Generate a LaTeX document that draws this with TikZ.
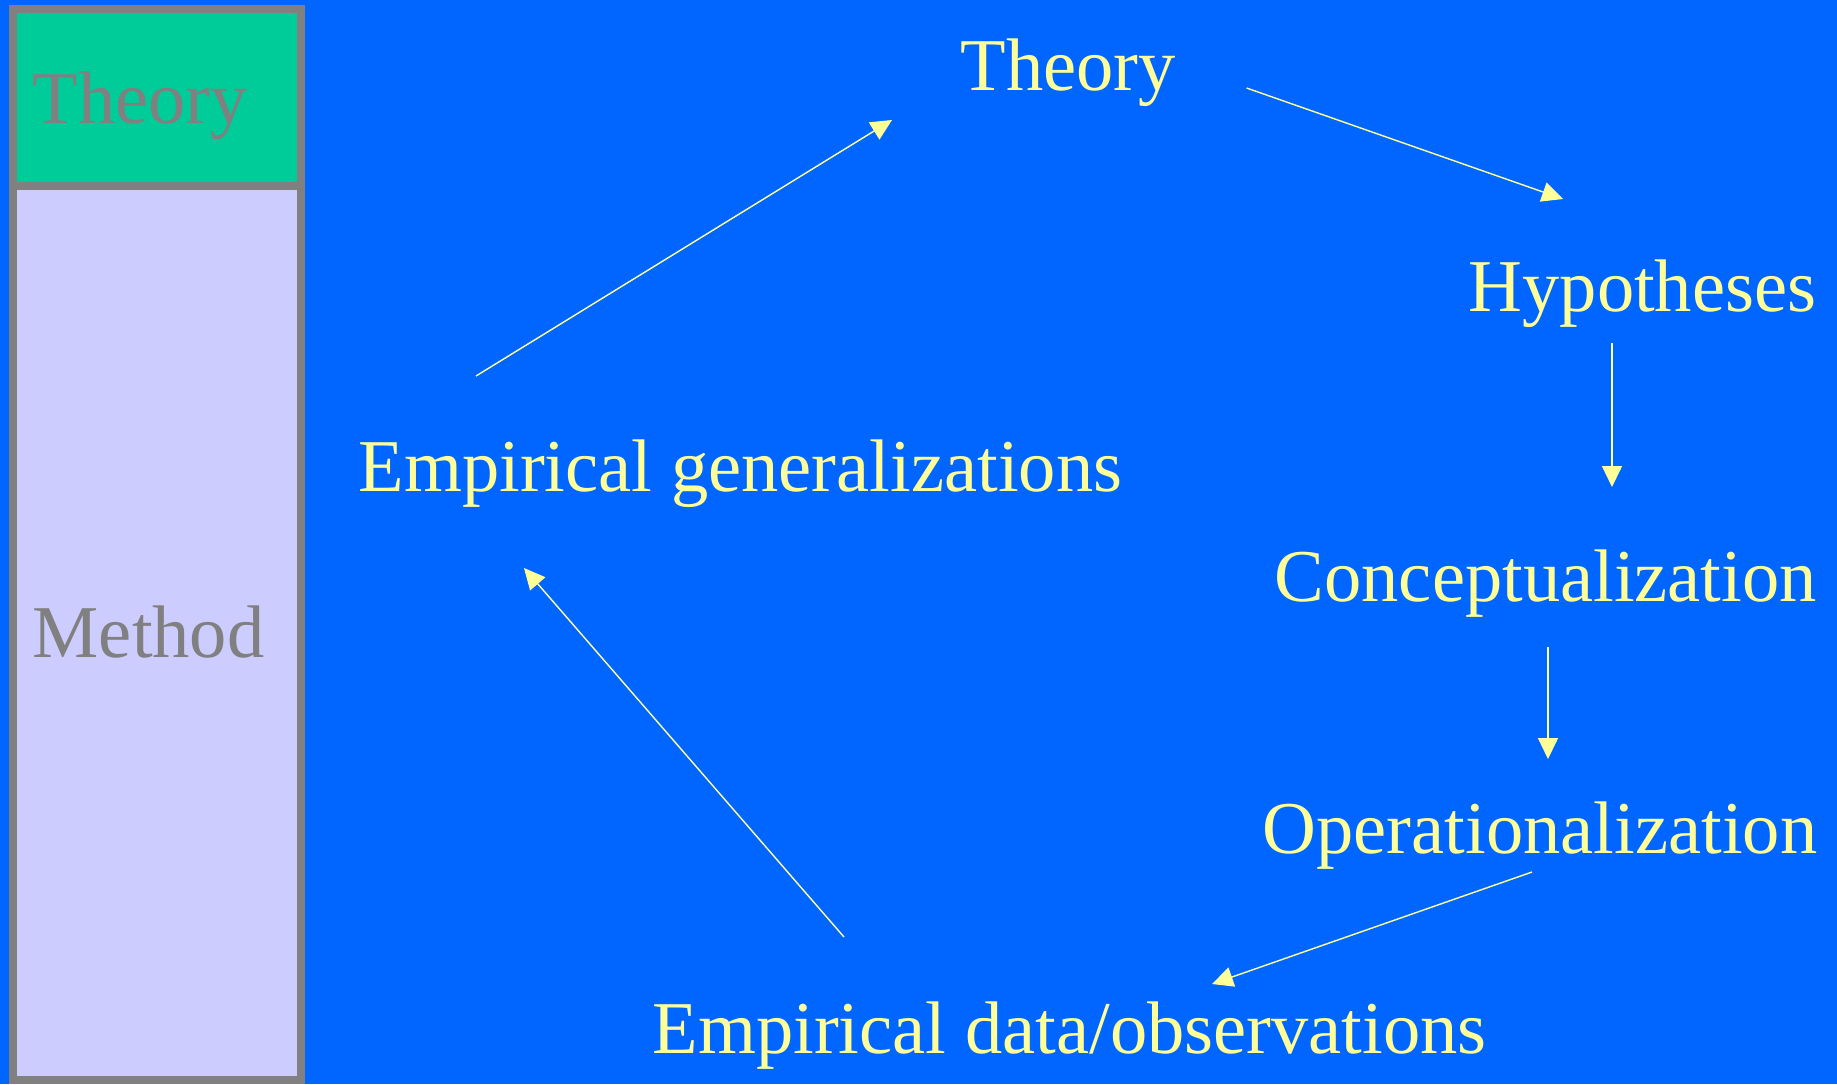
\documentclass[tikz,border=0pt]{standalone}
\usepackage{fontspec}
\setmainfont{Liberation Serif}
\usetikzlibrary{arrows.meta}

\definecolor{slideblue}{HTML}{0066FF}
\definecolor{slideyellow}{HTML}{FFFF99}
\definecolor{theorygreen}{HTML}{00CC99}
\definecolor{methodlilac}{HTML}{CCCCFF}
\definecolor{framegray}{HTML}{808080}

\begin{document}
\begin{tikzpicture}[x=0.1mm,y=-0.1mm,
  stage/.style={anchor=base west,inner sep=0,text=slideyellow,font=\fontsize{21.2pt}{25pt}\selectfont},
  side/.style={stage,text=framegray},
  flow/.style={draw=slideyellow,line width=0.4pt,-{Triangle[length=2.1mm,width=2mm]}},
  panel/.style={draw=framegray,line width=0.8mm}]

\fill[slideblue] (0,0) rectangle (1837,1084);
\useasboundingbox (0,0) rectangle (1837,1084);

% side bar
\filldraw[panel,fill=theorygreen] (13,8.5) rectangle (301,186);
\filldraw[panel,fill=methodlilac] (13,186) rectangle (301,1080);
\node[side] (sidetheory) at (32,123) {Theory};
\node[side] (sidemethod) at (32,657) {Method};

% the wheel
\node[stage] (theory) at (960,90) {Theory};
\node[stage] (hyp) at (1468,311) {Hypotheses};
\node[stage] (concept) at (1274,601) {Conceptualization};
\node[stage] (oper) at (1262,853) {Operationalization};
\node[stage] (data) at (652,1053) {Empirical data/observations};
\node[stage] (gener) at (358,491) {Empirical generalizations};

\draw[flow] ([shift={(70,-2)}]theory.base east) -- ([shift={(95,-112)}]hyp.base west);
\draw[flow] ([shift={(144,32)}]hyp.base west) -- ([shift={(338,-114)}]concept.base west);
\draw[flow] ([shift={(274,46)}]concept.base west) -- ([shift={(286,-94)}]oper.base west);
\draw[flow] ([shift={(270,19)}]oper.base west) -- ([shift={(560,-69)}]data.base west);
\draw[flow] ([shift={(192,-116)}]data.base west) -- ([shift={(166,77)}]gener.base west);
\draw[flow] ([shift={(118,-115)}]gener.base west) -- ([shift={(-68,30)}]theory.base west);

\end{tikzpicture}
\end{document}
